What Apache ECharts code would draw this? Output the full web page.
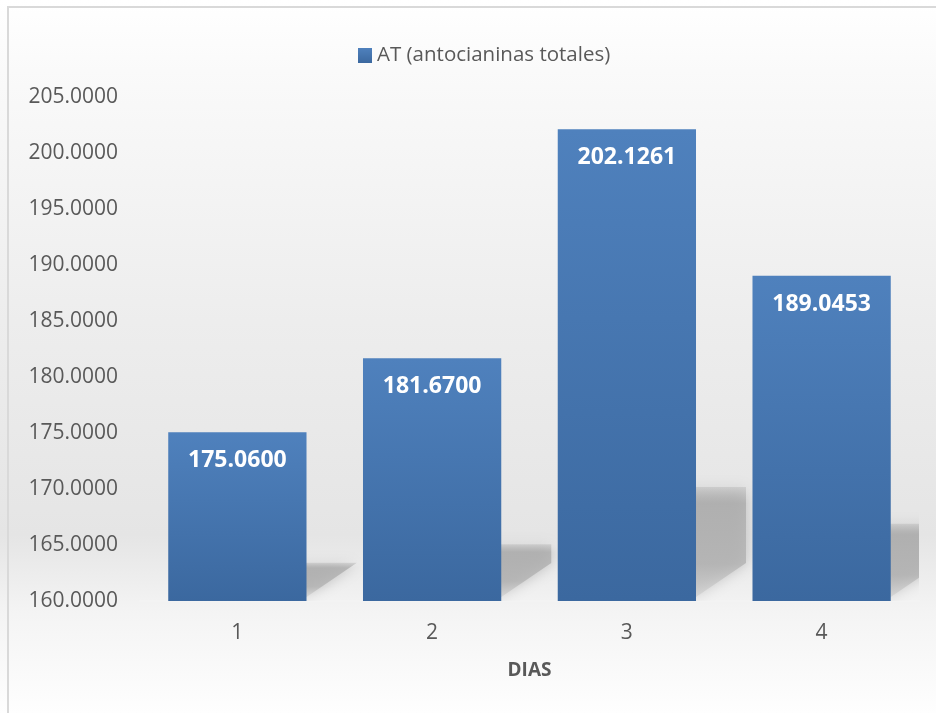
<!DOCTYPE html>
<html>
<head>
<meta charset="utf-8">
<script src="https://cdn.jsdelivr.net/npm/echarts@6/dist/echarts.min.js"></script>
<style>
  html, body { margin: 0; padding: 0; background: #ffffff; }
  #chart { position: absolute; left: 0; top: 0; width: 936px; height: 713px; }
  #frame {
    position: absolute; left: 7px; top: 6px; width: 960px; height: 740px;
    border-left: 2px solid #d9d9d9; border-top: 2px solid #d9d9d9;
    pointer-events: none;
  }
</style>
</head>
<body>
<div id="chart"></div>
<div id="frame"></div>
<script>
// Días de medición y antocianinas totales
const categories = ['1', '2', '3', '4'];
const seriesName = 'AT (antocianinas totales)';
const atValues = [175.0600, 181.6700, 202.1261, 189.0453];
const axisName = 'DIAS';
const yMin = 160, yMax = 205, yStep = 5;

const FONT = '"Open Sans", "Noto Sans", sans-serif';
const BAR_RATIO = 0.71;

const chart = echarts.init(document.getElementById('chart'), null, { renderer: 'canvas' });

// Sombra proyectada detrás de cada barra (solo asoma por la derecha)
function renderShadow(params, api) {
  const idx = api.value(0);
  const v = api.value(1);
  const base = api.coord([idx, yMin]);
  const top = api.coord([idx, v]);
  const bw = api.size([1, 0])[0] * BAR_RATIO;
  const xr = base[0] + bw / 2;
  const xl = xr - 20;
  const h = base[1] - top[1];
  const hS = h * 0.25;
  const dx = 50, dy = 38;
  const y0 = base[1];
  return {
    type: 'polygon',
    shape: {
      points: [[xl, y0 - 4], [xr, y0 - 4], [xr + dx, y0 - dy], [xr + dx, y0 - hS + 4], [xl, y0 - hS + 4]]
    },
    style: {
      fill: new echarts.graphic.LinearGradient(0, 0, 0, 1, [
        { offset: 0, color: 'rgba(172,172,172,0.35)' },
        { offset: 0.15, color: 'rgba(172,172,172,0.8)' },
        { offset: 0.7, color: 'rgba(178,178,178,0.8)' },
        { offset: 1, color: 'rgba(200,200,200,0.5)' }
      ]),
      shadowBlur: 14,
      shadowColor: 'rgba(175,175,175,0.9)'
    }
  };
}

chart.setOption({
  backgroundColor: new echarts.graphic.LinearGradient(0, 0, 0, 1, [
    { offset: 0, color: '#ffffff' },
    { offset: 0.12, color: '#f9f9f9' },
    { offset: 0.45, color: '#ededed' },
    { offset: 0.75, color: '#e5e5e5' },
    { offset: 0.86, color: '#f4f4f4' },
    { offset: 1, color: '#fefefe' }
  ]),
  animation: false,
  textStyle: { fontFamily: FONT },
  legend: {
    data: [seriesName],
    left: 353,
    top: 40,
    icon: 'rect',
    itemWidth: 14,
    itemHeight: 15,
    itemGap: 4,
    textStyle: { color: '#595959', fontSize: 20.5, fontFamily: FONT }
  },
  grid: { left: 140, right: 17, top: 97, bottom: 112, containLabel: false },
  xAxis: {
    type: 'category',
    data: categories,
    name: axisName,
    nameLocation: 'middle',
    nameGap: 60,
    nameTextStyle: { color: '#595959', fontSize: 19, fontWeight: 'bold', fontFamily: FONT },
    axisLine: { show: true, lineStyle: { color: '#f3f3f3', width: 2 } },
    axisTick: { show: false },
    axisLabel: { color: '#595959', fontSize: 21, margin: 22, fontFamily: FONT }
  },
  yAxis: {
    type: 'value',
    min: yMin,
    max: yMax,
    interval: yStep,
    axisLine: { show: false },
    axisTick: { show: false },
    splitLine: { show: false },
    axisLabel: {
      color: '#595959', fontSize: 21, margin: 22, fontFamily: FONT,
      formatter: (v) => v.toFixed(4)
    }
  },
  series: [
    {
      type: 'custom',
      name: 'sombra',
      renderItem: renderShadow,
      clip: true,
      z: 1,
      silent: true,
      encode: { x: 0, y: 1 },
      data: atValues.map((v, i) => [i, v])
    },
    {
      type: 'bar',
      name: seriesName,
      data: atValues,
      barWidth: (BAR_RATIO * 100) + '%',
      z: 3,
      itemStyle: {
        color: new echarts.graphic.LinearGradient(0, 0, 0, 1, [
          { offset: 0, color: '#4f81bd' },
          { offset: 1, color: '#3b689f' }
        ])
      },
      label: {
        show: true,
        position: 'insideTop',
        distance: 17,
        color: '#ffffff',
        fontSize: 23,
        fontWeight: 'bold',
        fontFamily: FONT,
        formatter: (p) => p.value.toFixed(4)
      }
    }
  ]
});
</script>
</body>
</html>
